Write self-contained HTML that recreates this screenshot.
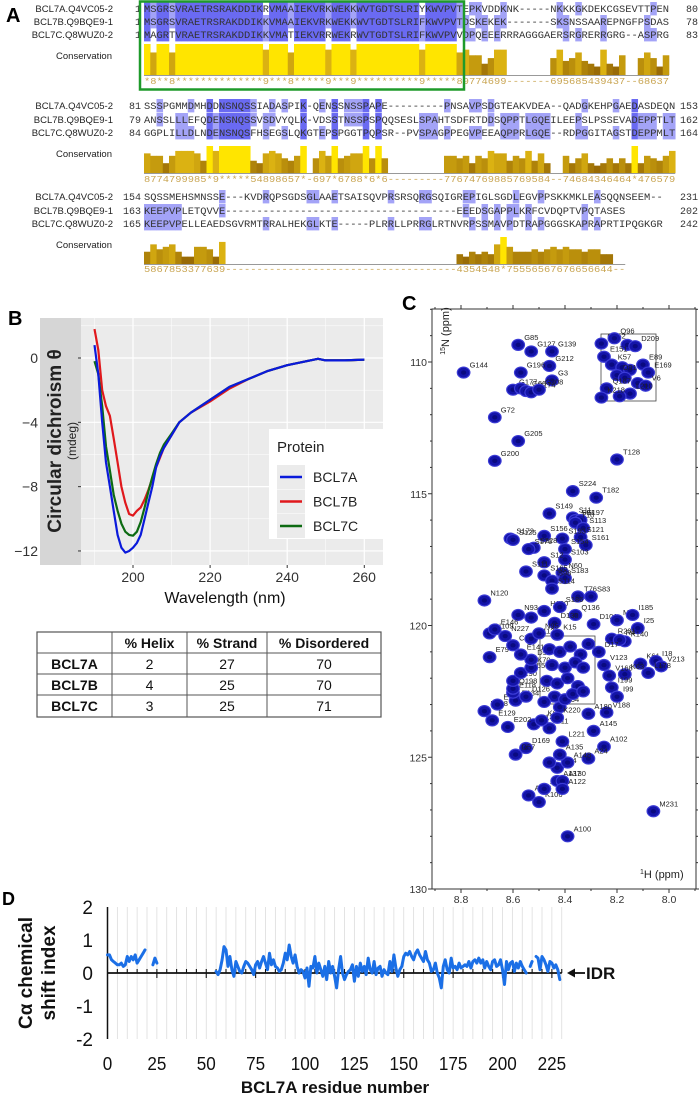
<!DOCTYPE html>
<html><head><meta charset="utf-8">
<style>
html,body{margin:0;padding:0;background:#fff;}
svg{display:block;font-family:"Liberation Sans",Arial,sans-serif;}
.mono{font-family:"Liberation Mono",monospace;}
</style></head>
<body>
<svg id="fig" width="699" height="1093" viewBox="0 0 699 1093" xmlns="http://www.w3.org/2000/svg">
<g id="panelA"></g>
<g id="panelB"></g>
<g id="tableG"></g>
<g id="panelC"></g>
<g id="panelD"></g>
</svg>
<script>
// ---------- Panel A data ----------
const seqNames = ["BCL7A.Q4VC05-2","BCL7B.Q9BQE9-1","BCL7C.Q8WUZ0-2"];
const block1 = ["MSGRSVRAETRSRAKDDIKRVMAAIEKVRKWEKKWVTGDTSLRIYKWVPVTEPKVDDKNK-----NKKKGKDEKCGSEVTTPEN",
                "MSGRSVRAETRSRAKDDIKKVMAAIEKVRKWEKKWVTGDTSLRIFKWVPVTDSKEKEK-------SKSNSSAAREPNGFPSDAS",
                "MAGRTVRAETRSRAKDDIKKVMATIEKVRRWEKRWVTGDTSLRIFKWVPVVDPQEEERRRAGGGAERSRGRERRGRG--ASPRG"];
const block2 = ["SSSPGMMDMHDDNSNQSSIADASPIK-QENSSNSSPAPE---------PNSAVPSDGTEAKVDEA--QADGKEHPGAEDASDEQN",
                "ANSSLLLEFQDENSNQSSVSDVYQLK-VDSSTNSSPSPQQSESLSPAHTSDFRTDDSQPPTLGQEILEEPSLPSSEVADEPPTLT",
                "GGPLILLDLNDENSNQSFHSEGSLQKGTEPSPGGTPQPSR--PVSPAGPPEGVPEEAQPPRLGQE--RDPGGITAGSTDEPPMLT"];
const block3 = ["SQSSMEHSMNSSE---KVDRQPSGDSGLAAETSAISQVPRSRSQRGSQIGREPIGLSGDLEGVPPSKKMKLEASQQNSEEM--",
                "KEEPVPLETQVVE-------------------------------------EEEDSGAPPLKRFCVDQPTVPQTASES",
                "KEEPVPELLEAEDSGVRMTRRALHEKGLKTE-----PLRRLLPRRGLRTNVRPSSMAVPDTRAPGGGSKAPRAPRTIPQGKGR"];
const cons1 = "*8**8**************9***8*****9***9**********9*****89774699-------695685439437--68637";
const cons2 = "8774799985*9*****54898657*-697*6788*6*6---------77674769885769584--74684346464*476579";
const cons3 = "5867853377639-------------------------------------4354548*75556567676656644--";
const startNums = [[1,1,1],[81,79,84],[154,163,165]];
const endNums = [[80,78,83],[153,162,164],[231,202,242]];

// ---------- Panel B data ----------
const wavelengths = [190,191,192,193,194,195,196,197,198,199,200,201,202,203,204,205,206,207,208,210,212,215,220,225,230,235,240,245,248,250,255,260];
const cdA = [0.8,-1,-4,-6.5,-8,-9.5,-11,-11.8,-12.1,-12,-11.8,-11.5,-11,-10,-9,-8,-6.8,-6.1,-5.6,-4.8,-4,-3.4,-2.6,-1.8,-1.3,-0.8,-0.45,-0.2,-0.05,-0.15,-0.15,-0.1];
const cdB = [1.8,0.5,-2,-3,-3.6,-5,-6.5,-8,-9,-9.7,-9.8,-9.5,-9.3,-8.8,-8.2,-7.5,-6.8,-6.2,-5.6,-4.8,-4,-3.4,-2.7,-1.9,-1.3,-0.8,-0.45,-0.2,-0.05,-0.15,-0.15,-0.1];
const cdC = [-0.2,-1,-3,-5.5,-7,-8.5,-9.5,-10.3,-10.8,-11,-11.05,-10.8,-10.2,-9.3,-8.3,-7.4,-6.6,-5.9,-5.4,-4.7,-4,-3.4,-2.6,-1.8,-1.3,-0.8,-0.45,-0.2,-0.05,-0.15,-0.15,-0.1];
const seriesNames = ["BCL7A","BCL7B","BCL7C"];
const yTicksB = [0,-4,-8,-12];
const xTicksB = [200,220,240,260];

// ---------- Table data ----------
const tableHead = ["","% Helix","% Strand","% Disordered"];
const tableRows = [["BCL7A","2","27","70"],["BCL7B","4","25","70"],["BCL7C","3","25","71"]];

// ---------- Panel C data ----------
const peakLabels = ["G144","G85","G127","G139","G212","G196","G3","G177","","G66","G174","G208","G72","G205","G200","T128","S224","T182",
 "Q152","Q96","","D209","E151","K57","","","E89","E169","D91","","","V6","Q187","L210","","K218",
 "S149","S11","S81","S197","T10","S113","S121","S161","S173","S125","S156","S193","S228","S176","S154","S103","S12","N60","S183","S165","S111","S98","S114","T76","S83","N120",
 "N93","N80","H160","S186","Q136","D101","D130","M86","I185","I25","R201","K140","R4","D17","K61","I18","V213","L178","K63","V123","V168","I199","I99","V188","A180","A145","A102","A24","M231","A100","K106","A116","A8","A137","A130","A122","A14","A148","R7","A135","L221","D169","D57","R11","R13","K65","E129","E202","E108","E74","E134","K64","K220","E118","D126","Q198","R190","Q155","K70","D92","E141","E79","C71","N112","N109","E146","N227","N95","K15",
 "","","","","","","","","","","","","","","","","",""];
const peakH = [8.79,8.58,8.53,8.45,8.46,8.57,8.45,8.60,8.57,8.55,8.53,8.50,8.67,8.58,8.67,8.20,8.37,8.28,
 8.26,8.21,8.16,8.13,8.25,8.22,8.18,8.15,8.10,8.08,8.20,8.17,8.12,8.09,8.24,8.15,8.19,8.26,
 8.46,8.37,8.36,8.34,8.36,8.33,8.34,8.32,8.61,8.60,8.48,8.41,8.52,8.54,8.40,8.40,8.48,8.41,8.40,8.48,8.55,8.45,8.45,8.35,8.30,8.71,
 8.58,8.53,8.48,8.42,8.36,8.29,8.44,8.20,8.14,8.12,8.22,8.17,8.19,8.27,8.11,8.05,8.03,8.08,8.17,8.25,8.23,8.22,8.20,8.24,8.31,8.29,8.25,8.31,8.06,8.39,8.50,8.54,8.48,8.43,8.41,8.41,8.43,8.39,8.46,8.42,8.41,8.55,8.59,8.46,8.52,8.49,8.68,8.62,8.71,8.66,8.59,8.42,8.43,8.60,8.55,8.60,8.60,8.57,8.53,8.53,8.57,8.69,8.60,8.53,8.69,8.67,8.63,8.50,8.43,
 8.46,8.42,8.38,8.34,8.31,8.45,8.40,8.36,8.33,8.47,8.43,8.39,8.35,8.44,8.40,8.37,8.33,8.48];
const peakN = [110.4,109.35,109.6,109.6,110.15,110.4,110.7,111.05,111.0,111.1,111.15,111.05,112.1,113.0,113.75,113.7,114.9,115.15,
 109.3,109.1,109.35,109.4,109.8,110.1,110.2,110.3,110.1,110.4,110.5,110.6,110.8,110.9,111.0,111.2,111.3,111.35,
 115.75,115.9,116.0,116.0,116.1,116.3,116.65,116.95,116.7,116.75,116.6,116.7,117.05,117.1,117.1,117.5,117.6,118.0,118.2,118.1,117.95,118.3,118.6,118.9,118.9,119.05,
 119.6,119.7,119.45,119.3,119.6,119.95,119.9,119.8,119.6,120.1,120.5,120.6,120.55,121.0,121.45,121.35,121.55,121.8,121.85,121.5,121.9,122.35,122.7,123.3,123.35,124.0,124.6,125.05,127.05,128.0,126.7,126.45,126.2,125.9,125.9,126.2,125.4,125.2,125.2,124.9,124.4,124.65,124.9,123.9,123.75,123.6,123.6,123.85,123.25,123.0,122.85,123.1,123.5,122.55,122.7,122.4,122.1,121.8,121.6,121.3,121.1,121.2,120.75,120.5,120.3,120.15,120.4,120.3,120.35,
 120.9,121.0,120.8,121.1,120.7,121.5,121.6,121.4,121.6,122.1,122.2,122.0,122.3,122.7,122.8,122.6,122.5,122.9];
const xTicksC = [8.8,8.6,8.4,8.2,8.0];
const yTicksC = [110,115,120,125,130];

// ---------- Panel D data ----------
const csiValues = [0.55,0.55,0.4,0.35,0.3,0.25,0.25,0.3,0.2,0.25,0.5,0.35,0.5,0.4,0.55,0.3,0.4,0.5,0.6,0.7,null,null,null,0.25,0.45,0.3,
 null,null,null,null,null,null,null,null,null,null,null,null,null,null,null,null,null,null,null,null,null,null,null,null,null,null,null,null,null,
 0.05,-0.05,0.1,0.4,0.8,0.7,0.2,0.5,0.1,-0.1,0.35,0.2,0.05,0.0,0.2,0.35,0.3,0.2,0.1,-0.05,0.25,0.35,0.15,0.35,0.5,0.3,0.1,0.6,0.25,0.4,0.2,0.15,0.05,0.1,0.3,0.6,0.4,0.85,0.5,0.3,0.55,0.2,0.0,0.1,0.05,-0.15,0.15,-0.4,0.2,0.15,0.5,0.0,0.3,0.1,-0.1,0.2,-0.2,0.35,0.0,0.2,-0.1,-0.45,0.1,0.5,0.0,-0.2,-0.05,0.05,0.1,0.25,-0.25,0.2,-0.1,0.3,0.05,0.2,-0.05,0.45,0.1,0.0,0.35,-0.05,0.15,0.2,-0.1,0.1,0.0,-0.05,0.35,0.05,0.55,0.15,-0.1,0.1,0.2,0.5,0.6,0.55,0.65,0.5,0.4,0.6,0.7,0.55,0.45,0.35,0.65,0.4,0.3,0.05,0.1,0.3,0.0,-0.15,-0.45,0.2,0.4,0.1,0.0,0.45,0.15,0.2,0.1,0.3,0.15,0.2,0.25,0.2,0.35,0.15,0.35,0.4,0.3,0.45,0.3,0.4,0.15,0.35,0.2,0.1,0.35,0.4,0.2,0.25,0.4,0.1,-0.35,0.35,0.1,0.3,0.35,0.05,0.3,0.15,0.35,0.2,0.1,0.0,null,0.2,0.35,null,0.5,0.45,0.1,0.5,0.4,0.25,0.05,0.35,0.3,0.15,0.25,0.1,-0.2];
const xTicksD = [0,25,50,75,100,125,150,175,200,225];
const yTicksD = [2,1,0,-1,-2];

const NS = "http://www.w3.org/2000/svg";
function mk(tag, attrs, parent, text){
  const e = document.createElementNS(NS, tag);
  for (const k in attrs) e.setAttribute(k, attrs[k]);
  if (text !== undefined) e.textContent = text;
  parent.appendChild(e);
  return e;
}

// ================= PANEL A =================
(function(){
  const g = document.getElementById('panelA');
  const lbl = mk('text',{x:6,y:22,'font-size':20,'font-weight':'bold'},g,'A');
  
  
  const cw = 6.25, x0 = 144;
  const blocks = [block1,block2,block3];
  const conss = [cons1,cons2,cons3];
  const rowY = [[12,25,38],[109,123,136],[200,214,227]];
  const baseY = [75,173,264];
  const consLblY = [59,157,248];
  const numY = [84,182,272];
  function consColor(c){
    if (c==='*') return '#ffe500';
    const d = parseInt(c,10);
    const t = d/10;
    const r = Math.round(120 + t*(230-120)), gg = Math.round(72 + t*(190-72)), b = Math.round(0 + t*20);
    return `rgb(${r},${gg},${b})`;
  }
  blocks.forEach((blk,bi)=>{
    const bg = mk('g',{},g);
    
    
    const ncol = Math.max(...blk.map(s=>s.length));
    for (let c=0;c<ncol;c++){
      const chars = blk.map(s=>s[c]||'-');
      const counts = {};
      chars.forEach(ch=>{ if(ch!=='-') counts[ch]=(counts[ch]||0)+1; });
      chars.forEach((ch,ri)=>{
        if (ch==='-') return;
        const n = counts[ch];
        if (n>=2){
          const r = mk('rect',{x:x0+c*cw,y:rowY[bi][ri]-10,width:cw+0.3,height:13.4,fill:n===3?'#6a6af2':'#a3a3f7'},bg);
          
          
        }
      });
    }
    blk.forEach((s,ri)=>{
      const nm = mk('text',{x:113,y:rowY[bi][ri],'font-size':9.5,'text-anchor':'end',fill:'#222'},bg,seqNames[ri]);
      
      
      const sn = mk('text',{x:x0-3,y:rowY[bi][ri],'font-size':10,'text-anchor':'end',class:'mono',fill:'#333'},bg,String(startNums[bi][ri]));
      
      
      const t = mk('text',{x:x0,y:rowY[bi][ri],'font-size':10.5,class:'mono',fill:'#333',textLength:(s.length*cw).toFixed(1),lengthAdjust:'spacingAndGlyphs'},bg,s);
      
      
      const en = mk('text',{x:698,y:rowY[bi][ri],'font-size':10,'text-anchor':'end',class:'mono',fill:'#333'},bg,String(endNums[bi][ri]));
      
      
    });
    const cl = mk('text',{x:112,y:consLblY[bi],'font-size':9.5,'text-anchor':'end',fill:'#222'},bg,'Conservation');
    
    
    const cs = conss[bi];
    const maxH = bi===0?31:27;
    for (let c=0;c<cs.length;c++){
      const ch = cs[c];
      if (ch==='-' || ch===' ') continue;
      const v = ch==='*'?11:parseInt(ch,10);
      const h = v/11*maxH;
      const r = mk('rect',{x:x0+c*cw,y:baseY[bi]-h,width:cw+0.3,height:h,fill:consColor(ch)},bg);
      
      
    }
    const bl = mk('line',{x1:x0,x2:x0+cs.length*cw,y1:baseY[bi]+0.5,y2:baseY[bi]+0.5,stroke:'#777','stroke-width':0.8},bg);
    
    
    const ct = mk('text',{x:x0,y:numY[bi],'font-size':9,class:'mono',fill:'#c9a552',textLength:(cs.length*cw).toFixed(1),lengthAdjust:'spacingAndGlyphs'},bg,cs);
    
    
  });
  const box = mk('rect',{x:140,y:1.5,width:324,height:88,fill:'none',stroke:'#1e9a2a','stroke-width':2.5},g);
  
  
})();

// ================= PANEL B =================
(function(){
  const g = document.getElementById('panelB');
  const lbl = mk('text',{x:8,y:325,'font-size':20,'font-weight':'bold'},g,'B');
  
  
  const L=81,R=383,T=318,B=565;
  const xs = w => 133 + (w-200)*3.855;
  const ys = v => 358 + (0 - v)*16.08;
  const strip = mk('rect',{x:40,y:T,width:L-40,height:B-T,fill:'#d6d6d6'},g);
  
  
  const bg = mk('rect',{x:L,y:T,width:R-L,height:B-T,fill:'#ebebeb'},g);
  
  
  for (let v=2; v>=-14; v-=2){
    const y = ys(v); if (y<T||y>B) continue;
    const major = yTicksB.includes(v);
    const gl = mk('line',{x1:L,x2:R,y1:y,y2:y,stroke:'#fff','stroke-width':major?1.2:0.5},g);
    
    
  }
  for (let w=190; w<=270; w+=10){
    const x = xs(w); if (x<L||x>R) continue;
    const major = xTicksB.includes(w);
    const gl = mk('line',{x1:x,x2:x,y1:T,y2:B,stroke:'#fff','stroke-width':major?1.2:0.5},g);
    
    
  }
  yTicksB.forEach(v=>{
    const tk = mk('line',{x1:L-3,x2:L,y1:ys(v),y2:ys(v),stroke:'#333'},g);
    
    
    const t = mk('text',{x:38,y:ys(v)+5,'font-size':14,'text-anchor':'end',fill:'#333'},g,v<0?'\u2212'+Math.abs(v):String(v));
    
    
  });
  xTicksB.forEach(w=>{
    const tk = mk('line',{x1:xs(w),x2:xs(w),y1:B,y2:B+3,stroke:'#333'},g);
    
    
    const t = mk('text',{x:xs(w),y:B+17,'font-size':14,'text-anchor':'middle',fill:'#333'},g,String(w));
    
    
  });
  const xt = mk('text',{x:225,y:603,'font-size':16,'text-anchor':'middle',fill:'#111'},g,'Wavelength (nm)');
  
  
  const yt = mk('text',{transform:'translate(61,441) rotate(-90)','font-size':19,'font-weight':'bold','text-anchor':'middle',fill:'#222'},g,'Circular dichroism \u03b8');
  
  
  const yt2 = mk('text',{transform:'translate(76,441) rotate(-90)','font-size':12,'text-anchor':'middle',fill:'#222'},g,'(mdeg)');
  
  
  const series = [cdA,cdB,cdC];
  const colors = ['#0a1adb','#e0181c','#0d6b12'];
  [1,2,0].forEach(si=>{
    const d = wavelengths.map((w,i)=>(i?'L':'M')+xs(w).toFixed(1)+','+ys(series[si][i]).toFixed(1)).join(' ');
    const p = mk('path',{d:d,fill:'none',stroke:colors[si],'stroke-width':2.2,'stroke-linejoin':'round'},g);
    
    
  });
  const lg = mk('g',{},g);
  
  
  mk('rect',{x:269,y:429,width:114,height:110,fill:'#fff'},lg);
  const lt = mk('text',{x:277,y:452,'font-size':15,fill:'#222'},lg,'Protein');
  
  
  seriesNames.forEach((n,i)=>{
    const y = 477 + i*24.5;
    const e = mk('g',{},lg);
    
    
    mk('rect',{x:277,y:y-12,width:28,height:24,fill:'#ebebeb'},e);
    mk('line',{x1:280,x2:302,y1:y,y2:y,stroke:colors[i],'stroke-width':2.5},e);
    mk('text',{x:313,y:y+5,'font-size':14,fill:'#222'},e,n);
  });
})();

// ================= TABLE =================
(function(){
  const g = document.getElementById('tableG');
  const cols = [37,112,187,267,381];
  const rows = [632,653,674,695,717];
  const bg = mk('rect',{x:37,y:632,width:344,height:85,fill:'#fff',stroke:'#555','stroke-width':1.2},g);
  
  
  cols.slice(1,-1).forEach(x=>{ const l=mk('line',{x1:x,x2:x,y1:632,y2:717,stroke:'#555','stroke-width':1},g);   });
  rows.slice(1,-1).forEach(y=>{ const l=mk('line',{x1:37,x2:381,y1:y,y2:y,stroke:'#555','stroke-width':1},g);   });
  tableHead.forEach((h,i)=>{
    const t = mk('text',{x:(cols[i]+cols[i+1])/2,y:648,'font-size':14,'font-weight':'bold','text-anchor':'middle',fill:'#111'},g,h);
    
    
  });
  tableRows.forEach((r,ri)=>{
    r.forEach((c,ci)=>{
      const t = mk('text',{x:(cols[ci]+cols[ci+1])/2,y:rows[ri+1]+16,'font-size':14,'font-weight':ci===0?'bold':'normal','text-anchor':'middle',fill:'#111'},g,c);
      
      
    });
  });
})();

// ================= PANEL C =================
(function(){
  const g = document.getElementById('panelC');
  const lbl = mk('text',{x:402,y:310,'font-size':20,'font-weight':'bold'},g,'C');
  
  
  const L=432,R=696,T=309,B=889;
  const xs = h => 461 + (8.8-h)*260;
  const ys = n => 362 + (n-110)*26.35;
  const fr = mk('rect',{x:L,y:T,width:R-L,height:B-T,fill:'#fff',stroke:'#333','stroke-width':1},g);
  
  
  for (let h=8.9; h>=7.9; h-=0.1){
    const x = xs(h); if (x<L||x>R) continue;
    const major = Math.abs(Math.round(h*5)-h*5)<0.01;
    [[B,B+(major?4:2)],[T,T-(major?4:2)]].forEach(p=>{const l=mk('line',{x1:x,x2:x,y1:p[0],y2:p[1],stroke:'#333'},g);  });
  }
  for (let n=108; n<=130; n+=1){
    const y = ys(n); if (y<T||y>B) continue;
    const major = n%5===0;
    [[L,L-(major?4:2)],[R,R+(major?4:2)]].forEach(p=>{const l=mk('line',{x1:p[0],x2:p[1],y1:y,y2:y,stroke:'#333'},g);  });
  }
  xTicksC.forEach(h=>{
    const t = mk('text',{x:xs(h),y:B+14,'font-size':10.5,'text-anchor':'middle',fill:'#333'},g,h.toFixed(1));
    
    
  });
  yTicksC.forEach(n=>{
    const t = mk('text',{x:427,y:ys(n)+4,'font-size':10.5,'text-anchor':'end',fill:'#333'},g,String(n));
    
    
  });
  const yt = mk('text',{transform:'translate(449,331) rotate(-90)','font-size':11,'text-anchor':'middle',fill:'#222'},g);
  
  
  mk('tspan',{'font-size':7,dy:-4},yt,'15');
  mk('tspan',{dy:4},yt,'N  (ppm)');
  const xt = mk('text',{x:640,y:878,'font-size':11,fill:'#222'},g);
  
  
  mk('tspan',{'font-size':7,dy:-4},xt,'1');
  mk('tspan',{dy:4},xt,'H  (ppm)');
  const b1 = mk('rect',{x:601,y:334,width:55,height:67,fill:'none',stroke:'#444','stroke-width':0.8},g);
  
  
  const b2 = mk('rect',{x:540,y:636,width:55,height:68,fill:'none',stroke:'#444','stroke-width':0.8},g);
  
  
  peakH.forEach((h,i)=>{
    const x = xs(h), y = ys(peakN[i]);
    const pg = mk('g',{},g);
    
    
    mk('ellipse',{cx:x,cy:y,rx:6.3,ry:5.5,fill:'#1414a8',stroke:'#3b3bd6','stroke-width':1.2},pg);
    mk('ellipse',{cx:x,cy:y,rx:2.6,ry:2.2,fill:'#0a0a80'},pg);
    const lab = peakLabels[i];
    if (lab){
      const t = mk('text',{x:x+6,y:y-5,'font-size':7.5,fill:'#222'},pg,lab);
      
      
    }
  });
})();

// ================= PANEL D =================
(function(){
  const g = document.getElementById('panelD');
  const lbl = mk('text',{x:2,y:905,'font-size':18,'font-weight':'bold'},g,'D');
  
  
  const xs = r => 107.5 + r*1.975;
  const ys = v => 973 - v*33;
  for (let r=5; r<=230; r+=5){
    const l = mk('line',{x1:xs(r),x2:xs(r),y1:ys(2),y2:ys(-2),stroke:'#dcdcdc','stroke-width':0.8},g);
    
    
  }
  const ya = mk('line',{x1:107.5,x2:107.5,y1:ys(2),y2:ys(-2),stroke:'#111','stroke-width':1.5},g);
  
  
  const xa = mk('line',{x1:107.5,x2:xs(230),y1:ys(0),y2:ys(0),stroke:'#111','stroke-width':1.8},g);
  
  
  for (let r=5; r<=230; r+=5){
    const big = r%25===0;
    const l = mk('line',{x1:xs(r),x2:xs(r),y1:ys(0)-(big?4:4),y2:ys(0)+(big?5:0),stroke:'#111','stroke-width':1.1},g);
    
    
  }
  yTicksD.forEach(v=>{
    const t = mk('text',{x:93,y:ys(v)+7,'font-size':19,'text-anchor':'end',fill:'#111'},g,String(v));
    
    
  });
  xTicksD.forEach(r=>{
    const t = mk('text',{x:xs(r),y:1070,'font-size':18,'text-anchor':'middle',fill:'#111',textLength:String(r).length*9.5,lengthAdjust:'spacingAndGlyphs'},g,String(r));
    
    
  });
  const xt = mk('text',{x:335,y:1093,'font-size':17,'font-weight':'bold','text-anchor':'middle',fill:'#111'},g,'BCL7A residue number');
  
  
  const yt1 = mk('text',{transform:'translate(32,973) rotate(-90)','font-size':19,'font-weight':'bold','text-anchor':'middle',fill:'#111'},g,'C\u03b1 chemical');
  
  
  const yt2 = mk('text',{transform:'translate(55,973) rotate(-90)','font-size':19,'font-weight':'bold','text-anchor':'middle',fill:'#111'},g,'shift index');
  
  
  let d = '', pen = false;
  csiValues.forEach((v,r)=>{
    if (v===null){ pen=false; return; }
    d += (pen?'L':'M') + xs(r).toFixed(1) + ',' + ys(v).toFixed(1) + ' ';
    pen = true;
  });
  const line = mk('path',{d:d,fill:'none',stroke:'#1b6fe6','stroke-width':3,'stroke-linejoin':'round','stroke-linecap':'round'},g);
  
  
  const ar = mk('g',{},g);
  
  
  mk('line',{x1:571,x2:585,y1:ys(0),y2:ys(0),stroke:'#111','stroke-width':1.8},ar);
  mk('path',{d:`M567,${ys(0)} L575,${ys(0)-4.5} L575,${ys(0)+4.5} Z`,fill:'#111'},ar);
  mk('text',{x:586,y:ys(0)+6,'font-size':17,'font-weight':'bold',fill:'#111'},ar,'IDR');
})();
</script>
</body></html>
